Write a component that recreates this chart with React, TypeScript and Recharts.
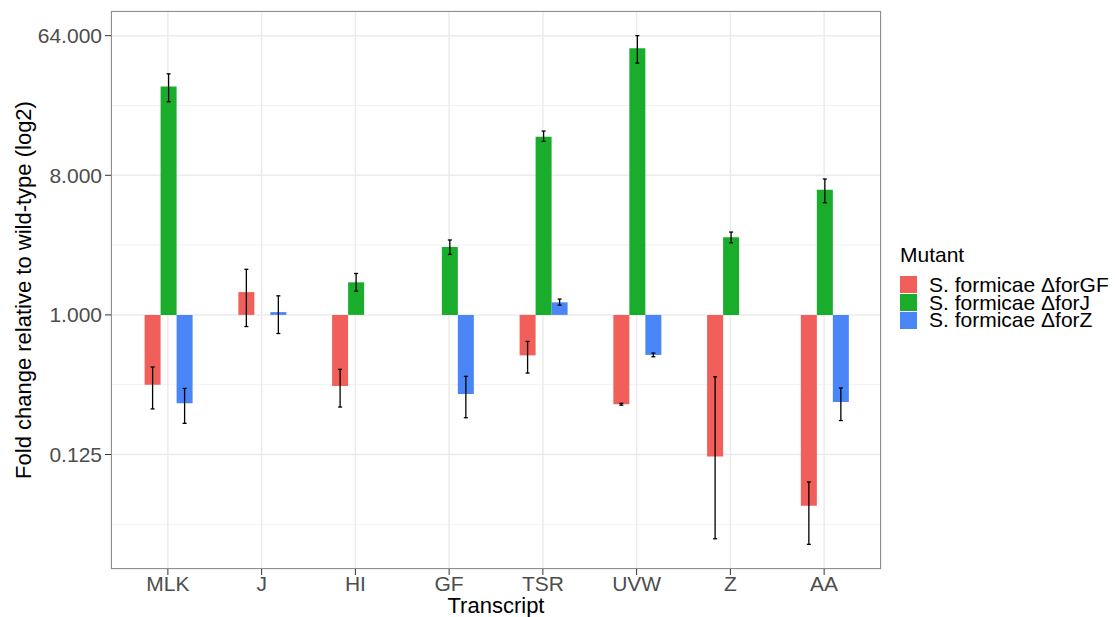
import { BarChart, Bar, XAxis, YAxis, CartesianGrid, ErrorBar, Label } from 'recharts';

const transcripts = ['MLK', 'J', 'HI', 'GF', 'TSR', 'UVW', 'Z', 'AA'];

// log2 fold change vs wild-type, with lower / upper error bounds (log2)
const forGF = [-1.5, 0.49, -1.53, null, -0.87, -1.92, -3.04, -4.1];
const forGFLow = [-2.02, -0.25, -1.98, null, -1.25, -1.94, -4.81, -4.93];
const forGFHigh = [-1.12, 0.98, -1.17, null, -0.57, -1.9, -1.33, -3.59];

const forJ = [4.91, null, 0.7, 1.46, 3.83, 5.73, 1.67, 2.69];
const forJLow = [4.58, null, 0.51, 1.3, 3.73, 5.41, 1.55, 2.41];
const forJHigh = [5.18, null, 0.89, 1.61, 3.95, 6.0, 1.78, 2.92];

const forZ = [-1.9, 0.06, 0.0, -1.7, 0.27, -0.86, null, -1.87];
const forZLow = [-2.33, -0.4, -0.29, -2.21, 0.21, -0.9, null, -2.27];
const forZHigh = [-1.58, 0.41, 0.26, -1.32, 0.34, -0.82, null, -1.57];

const yTicks = [-3, 0, 3, 6];
const yMinor = [-4.5, -1.5, 1.5, 4.5];

const series = [
  { key: 'gf', name: 'S. formicae \u0394forGF', color: '#f05f5a' },
  { key: 'j', name: 'S. formicae \u0394forJ', color: '#1aad2b' },
  { key: 'z', name: 'S. formicae \u0394forZ', color: '#4a86f8' },
];

const err = (v: number | null, lo: number | null, hi: number | null) =>
  v == null || lo == null || hi == null ? undefined : [v - lo, hi - v];

const data = transcripts.map((t, i) => ({
  transcript: t,
  gf: forGF[i],
  gfErr: err(forGF[i], forGFLow[i], forGFHigh[i]),
  j: forJ[i],
  jErr: err(forJ[i], forJLow[i], forJHigh[i]),
  z: forZ[i],
  zErr: err(forZ[i], forZLow[i], forZHigh[i]),
}));

const FONT = '"Liberation Sans", Arial, sans-serif';
const FS = 21;
const TITLE_FS = 22;
const W = 1115;
const H = 617;
const margin = { top: 11, right: 234, bottom: 0, left: 0 };
const yAxisW = 111;
const xAxisH = 48;

function YTitle(props: any) {
  const vb = props.viewBox || {};
  const x = vb.x + 31;
  const y = vb.y + vb.height / 2;
  return (
    <text x={x} y={y} transform={`rotate(-90 ${x} ${y})`} textAnchor="middle"
      fontSize={TITLE_FS} fontFamily={FONT} fill="#000">
      Fold change relative to wild-type (log2)
    </text>
  );
}

function MutantLegend() {
  return (
    <div style={{ position: 'absolute', left: 900, top: 243, fontFamily: FONT, fontSize: FS, color: '#000' }}>
      <div style={{ marginBottom: 9, lineHeight: '24px' }}>Mutant</div>
      {series.map((s) => (
        <div key={s.key} style={{ display: 'flex', alignItems: 'center', height: 17.7 }}>
          <span style={{ width: 17, height: 17, background: s.color, display: 'inline-block' }} />
          <span style={{ marginLeft: 12, lineHeight: '17.7px', whiteSpace: 'nowrap' }}>{s.name}</span>
        </div>
      ))}
    </div>
  );
}

export default function App() {
  const plotW = W - margin.right - yAxisW;
  const plotH = H - margin.top - xAxisH;
  return (
    <div style={{ position: 'absolute', left: 0, top: 0, width: W, height: H, background: '#fff' }}>
      <BarChart width={W} height={H} data={data} margin={margin} barGap={0} barCategoryGap={23.6}>
        <CartesianGrid horizontalValues={yMinor} vertical={false} stroke="#f2f2f2" strokeWidth={1} />
        <CartesianGrid stroke="#ebebeb" strokeWidth={1.5} />
        <XAxis
          dataKey="transcript"
          height={xAxisH}
          padding={{ left: 10, right: 10 }}
          tickSize={6}
          tickMargin={1}
          axisLine={false}
          tickLine={{ stroke: '#333' }}
          tick={{ fill: '#4d4d4d', fontSize: FS, fontFamily: FONT }}
          interval={0}
        >
          <Label value="Transcript" position="insideBottom" offset={4}
            style={{ fill: '#000', fontSize: TITLE_FS, fontFamily: FONT }} />
        </XAxis>
        <YAxis
          type="number"
          width={yAxisW}
          domain={[-5.46, 6.53]}
          allowDataOverflow
          ticks={yTicks}
          tickFormatter={(v: number) => Math.pow(2, v).toFixed(3)}
          tickSize={6}
          tickMargin={3}
          axisLine={false}
          tickLine={{ stroke: '#333' }}
          tick={{ fill: '#4d4d4d', fontSize: FS, fontFamily: FONT }}
          label={<YTitle />}
        />
        {series.map((s) => (
          <Bar key={s.key} dataKey={s.key} name={s.name} fill={s.color} isAnimationActive={false}>
            <ErrorBar dataKey={`${s.key}Err`} width={2} stroke="#000" strokeWidth={1.3} />
          </Bar>
        ))}
      </BarChart>
      <MutantLegend />
      <div
        style={{
          position: 'absolute',
          left: yAxisW,
          top: margin.top,
          width: plotW,
          height: plotH,
          border: '1px solid #8f8f8f',
          boxSizing: 'border-box',
          pointerEvents: 'none',
        }}
      />
    </div>
  );
}
